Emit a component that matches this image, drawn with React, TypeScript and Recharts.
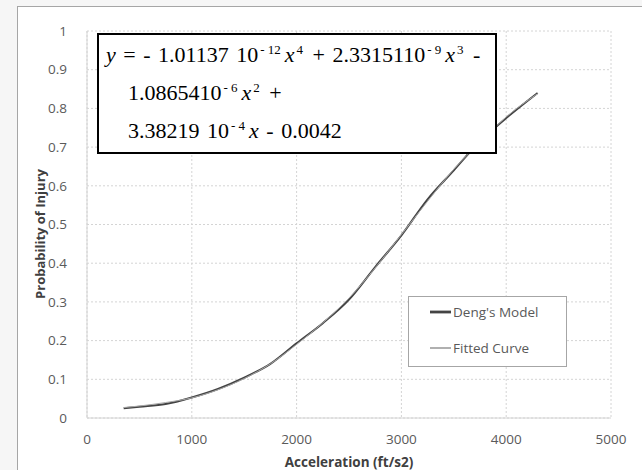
import { CartesianGrid, Line, LineChart, XAxis, YAxis } from 'recharts';

const accel = [350, 500, 750, 1000, 1250, 1500, 1750, 2000, 2250, 2500, 2750, 3000, 3250, 3500, 3750, 4000, 4300];
const dengModel = [0.025, 0.029, 0.036, 0.053, 0.075, 0.104, 0.14, 0.193, 0.245, 0.306, 0.39, 0.472, 0.565, 0.64, 0.715, 0.775, 0.84];
const fittedCurve = [0.027, 0.031, 0.04, 0.052, 0.073, 0.102, 0.14, 0.19, 0.246, 0.31, 0.388, 0.474, 0.56, 0.643, 0.712, 0.778, 0.838];

const xTicks = [0, 1000, 2000, 3000, 4000, 5000];
const yTicks = [0, 0.1, 0.2, 0.3, 0.4, 0.5, 0.6, 0.7, 0.8, 0.9, 1];
const yTickLabels = ['0', '0.1', '0.2', '0.3', '0.4', '0.5', '0.6', '0.7', '0.8', '0.9', '1'];

const data = accel.map((x, i) => ({ x, deng: dengModel[i], fitted: fittedCurve[i] }));

const tickFont = { fontSize: 13.5, fill: '#5a5a5a', fontFamily: '"Open Sans", sans-serif' };

const seriesStyle = [
  { key: 'deng', name: "Deng's Model", color: '#444444', w: 2 },
  { key: 'fitted', name: 'Fitted Curve', color: '#a8a8a8', w: 1 },
];

function LegendBox() {
  return (
    <div
      style={{
        position: 'absolute',
        left: 408,
        top: 296,
        width: 157,
        height: 69,
        border: '1px solid #a6a6a6',
        background: '#fff',
        fontFamily: '"Open Sans", sans-serif',
        fontSize: 13.5,
        color: '#595959',
      }}
    >
      {seriesStyle.map((it, i) => (
        <div key={it.name} style={{ position: 'absolute', left: 21, top: i === 0 ? 6 : 42, display: 'flex', alignItems: 'center' }}>
          <svg width={22} height={10}>
            <line x1={0} y1={5} x2={21} y2={5} stroke={it.color} strokeWidth={it.w + 0.8} />
          </svg>
          <span style={{ marginLeft: 1 }}>{it.name}</span>
        </div>
      ))}
    </div>
  );
}

const sup = { fontSize: 13, lineHeight: 0, verticalAlign: '0.6em', marginLeft: 2, marginRight: 2, wordSpacing: 0 };
const ix = { marginLeft: 2 };

const axisTitle = {
  position: 'absolute' as const,
  whiteSpace: 'nowrap' as const,
  fontFamily: '"Open Sans", sans-serif',
  fontWeight: 700,
  color: '#404040',
};

export default function App() {
  return (
    <div style={{ position: 'absolute', left: 0, top: 0, width: 642, height: 470, overflow: 'hidden', background: '#f6f6f6' }}>
      <div
        style={{
          position: 'absolute',
          left: 17,
          top: 6,
          width: 640,
          height: 480,
          background: '#fff',
          border: '1px solid #a6a6a6',
        }}
      />
      <div style={{ position: 'absolute', left: 0, top: 0 }}>
        <LineChart width={642} height={470} data={data} margin={{ top: 31, right: 31, left: 27, bottom: 22 }}>
          <CartesianGrid stroke="#d4d4d4" strokeDasharray="2 2" />
          <XAxis
            type="number"
            dataKey="x"
            domain={[0, 5000]}
            ticks={xTicks}
            height={30}
            tickLine={false}
            axisLine={{ stroke: '#d4d4d4' }}
            tick={tickFont}
            tickMargin={10}
          />
          <YAxis
            type="number"
            domain={[0, 1]}
            ticks={yTicks}
            width={60}
            tickLine={false}
            axisLine={{ stroke: '#d4d4d4' }}
            tick={tickFont}
            tickMargin={14}
            tickFormatter={(v: number) => yTickLabels[yTicks.indexOf(v)] ?? String(v)}
          />
          {seriesStyle.map((s) => (
            <Line
              key={s.key}
              type="monotone"
              dataKey={s.key}
              name={s.name}
              stroke={s.color}
              strokeWidth={s.w}
              dot={false}
              isAnimationActive={false}
            />
          ))}
        </LineChart>
      </div>
      <LegendBox />
      <div style={{ ...axisTitle, left: 40, top: 234, fontSize: 13, transform: 'translate(-50%, -50%) rotate(-90deg)' }}>
        Probability of Injury
      </div>
      <div style={{ ...axisTitle, left: 349, top: 462, fontSize: 13.5, transform: 'translate(-50%, -50%)' }}>
        Acceleration (ft/s2)
      </div>
      <div
        style={{
          position: 'absolute',
          left: 97,
          top: 33,
          width: 396,
          height: 116,
          border: '2px solid #000',
          background: '#fff',
          fontFamily: '"Liberation Serif", "Times New Roman", serif',
          fontSize: 22,
          lineHeight: '38px',
          wordSpacing: 2,
          color: '#000',
          paddingTop: 1,
          whiteSpace: 'nowrap',
        }}
      >
        <div style={{ paddingLeft: 7 }}>
          <i>y</i> = - 1.01137 10<span style={sup}>- 12</span>
          <i style={ix}>x</i>
          <span style={sup}>4</span> + 2.3315110<span style={sup}>- 9</span>
          <i style={ix}>x</i>
          <span style={sup}>3</span> -
        </div>
        <div style={{ paddingLeft: 29 }}>
          1.0865410<span style={sup}>- 6</span>
          <i style={ix}>x</i>
          <span style={sup}>2</span> +
        </div>
        <div style={{ paddingLeft: 29 }}>
          3.38219 10<span style={sup}>- 4</span>
          <i style={ix}>x</i> - 0.0042
        </div>
      </div>
    </div>
  );
}
